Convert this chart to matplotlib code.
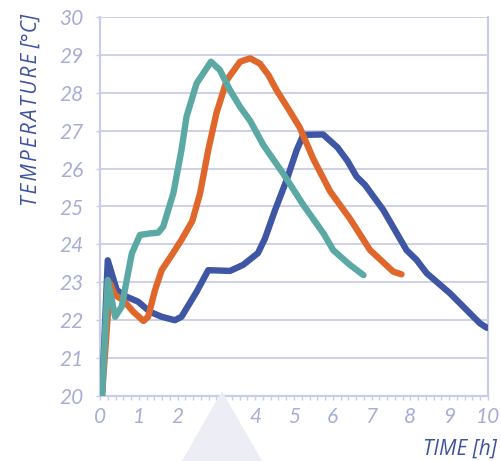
import numpy as np
import matplotlib
matplotlib.use('Agg')
import matplotlib.pyplot as plt
from matplotlib.patches import Polygon

# hours / temperature
blue_t = [0.05, 0.2, 0.43, 0.64, 0.98, 1.29, 1.59, 1.93, 2.1, 2.49, 2.79, 3.35, 3.69, 4.07,
          4.25, 4.51, 4.81, 5.07, 5.24, 5.75, 6.12, 6.38, 6.61, 6.83, 7.3, 7.9, 8.16, 8.42,
          9.02, 9.79, 9.97]
blue_v = [20.0, 23.58, 22.8, 22.64, 22.49, 22.22, 22.09, 22.0, 22.09, 22.75, 23.32, 23.3, 23.46, 23.77,
          24.15, 24.9, 25.7, 26.49, 26.89, 26.9, 26.56, 26.2, 25.79, 25.57, 24.91, 23.85, 23.59, 23.24,
          22.71, 21.92, 21.8]

orange_t = [0.05, 0.26, 0.39, 0.6, 0.86, 1.12, 1.24, 1.42, 1.59, 1.85, 2.1, 2.38, 2.58, 2.79,
            3.0, 3.27, 3.61, 3.87, 4.12, 4.34, 4.55, 4.9, 5.15, 5.5, 5.93, 6.44, 6.96, 7.56, 7.77]
orange_v = [20.0, 22.97, 22.66, 22.53, 22.22, 21.98, 22.09, 22.8, 23.32, 23.72, 24.12, 24.62, 25.35, 26.49,
            27.46, 28.34, 28.82, 28.91, 28.77, 28.47, 28.07, 27.5, 27.08, 26.25, 25.4, 24.68, 23.85, 23.28, 23.21]

teal_t = [0.05, 0.2, 0.39, 0.56, 0.69, 0.82, 1.03, 1.29, 1.5, 1.63, 1.89, 2.1, 2.23, 2.49,
          2.86, 3.09, 3.35, 3.61, 3.87, 4.21, 4.72, 5.24, 5.76, 6.01, 6.44, 6.79]
teal_v = [20.0, 23.06, 22.09, 22.36, 23.06, 23.76, 24.25, 24.29, 24.31, 24.47, 25.35, 26.49, 27.37, 28.25,
          28.82, 28.6, 28.07, 27.63, 27.26, 26.62, 25.87, 25.04, 24.29, 23.85, 23.46, 23.19]

grid_col = '#c9cde6'
tick_col = '#a7aed6'
label_col = '#3f53a0'

fig = plt.figure(figsize=(5.02, 4.61), dpi=100)
ax = fig.add_axes([100/502, 65/461, 388/502, 379/461])

# decorative triangle under the axis
tri = Polygon([(182/502, 0), (222/502, 70/461), (262/502, 0)], closed=True,
              transform=fig.transFigure, facecolor='#ecedf5', edgecolor='none', zorder=0)
fig.patches.append(tri)
ax.patch.set_alpha(0)

for t, v, c, z in [(blue_t, blue_v, '#3f56a4', 3), (orange_t, orange_v, '#e0672b', 3),
                   (teal_t, teal_v, '#5ba9a4', 4)]:
    ax.plot(t, v, color=c, lw=4.6, solid_capstyle='round', solid_joinstyle='round', zorder=z)

ax.set_xlim(0, 10)
ax.set_ylim(20, 30)
ax.set_xticks(range(0, 11))
ax.set_xticks(np.arange(0, 10.01, 0.2), minor=True)
ax.set_yticks(range(20, 31))

ax.grid(axis='y', color=grid_col, lw=1.3)
ax.set_axisbelow(True)
for s in ['left', 'bottom', 'right']:
    ax.spines[s].set_color(grid_col)
    ax.spines[s].set_linewidth(1.6)
ax.spines['top'].set_visible(False)

ax.tick_params(axis='x', which='both', direction='out', length=3, width=1, color=grid_col,
               labelcolor=tick_col, labelsize=15, pad=5)
ax.tick_params(axis='y', which='both', direction='out', length=3, width=1, color=grid_col,
               labelcolor=tick_col, labelsize=15, pad=9)
for lab in ax.get_xticklabels() + ax.get_yticklabels():
    lab.set_fontstyle('italic')
    lab.set_fontfamily('Lato')

fig.text(31/502, 1 - 110/461, 'T E M P E R A T U R E  [°C]'.replace(' ', '\u200a').replace('\u200a\u200a', ' '),
         rotation=90, ha='center', va='center',
         fontsize=15, style='italic', color=label_col, family='Open Sans')
fig.text(497/502, 1 - 449/461, 'TIME [h]', ha='right', va='center',
         fontsize=15, style='italic', color=label_col, family='Open Sans')

fig.savefig('out.png', dpi=100)
